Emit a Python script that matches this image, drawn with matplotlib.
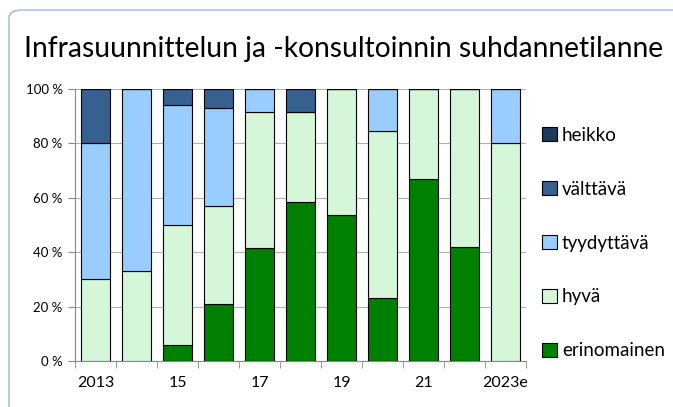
import matplotlib.pyplot as plt
from matplotlib.patches import FancyBboxPatch

years = ["2013", "14", "15", "16", "17", "18", "19", "20", "21", "22", "2023e"]
tick_labels = ["2013", "15", "17", "19", "21", "2023e"]

# shares in percent, bottom to top
erinomainen = [0, 0, 6, 21, 41.7, 58.3, 53.8, 23.1, 67, 42, 0]
hyva = [30, 33, 44, 36, 50, 33.4, 46.2, 61.5, 33, 58, 80]
tyydyttava = [50, 67, 44, 36, 8.3, 0, 0, 15.4, 0, 0, 20]
valttava = [20, 0, 6, 7, 0, 8.3, 0, 0, 0, 0, 0]
heikko = [0, 0, 0, 0, 0, 0, 0, 0, 0, 0, 0]

series = [
    ("erinomainen", erinomainen, "#008000"),
    ("hyvä", hyva, "#d6f6d9"),
    ("tyydyttävä", tyydyttava, "#99ccff"),
    ("välttävä", valttava, "#35608f"),
    ("heikko", heikko, "#203a5c"),
]

plt.rcParams['font.family'] = ['Lato', 'DejaVu Sans']

fig = plt.figure(figsize=(6.73, 4.07), dpi=100)

# rounded frame around the chart
frame = FancyBboxPatch((9 / 673, -0.1), 1.1, 1.1 - 10 / 407,
                       boxstyle="round,pad=0,rounding_size=0.02",
                       transform=fig.transFigure, fill=False,
                       edgecolor="#9fb6d8", linewidth=1.0)
fig.patches.append(frame)

ax = fig.add_axes([75 / 673, 46 / 407, 451 / 673, 272 / 407])

x = list(range(len(years)))
bottom = [0] * len(years)
handles = []
for name, vals, col in series:
    b = ax.bar(x, vals, width=0.69, bottom=bottom, color=col,
               edgecolor="black", linewidth=0.8, label=name, zorder=3)
    handles.append(b)
    bottom = [bo + v for bo, v in zip(bottom, vals)]

ax.set_xlim(-0.5, len(years) - 0.5)
ax.set_ylim(0, 100)
ax.set_yticks([0, 20, 40, 60, 80, 100])
ax.set_yticklabels([f"{v} %" for v in range(0, 101, 20)], fontsize=9.5)
ax.set_xticks([0, 2, 4, 6, 8, 10])
ax.set_xticklabels(tick_labels, fontsize=11.5)
ax.set_xticks([i - 0.5 for i in range(len(years) + 1)], minor=True)
ax.tick_params(axis="x", which="major", length=0, pad=11)
ax.tick_params(axis="x", which="minor", length=5, color="#888888")
ax.tick_params(axis="y", length=5, color="#888888", pad=4)
ax.grid(axis="y", color="#b0b0b0", linewidth=0.8, zorder=0)
for s in ["top", "right"]:
    ax.spines[s].set_visible(False)
ax.spines["left"].set_color("#888888")
ax.spines["bottom"].set_color("#888888")

fig.text(343.5 / 673, 1 - 49 / 407, "Infrasuunnittelun ja -konsultoinnin suhdannetilanne",
         ha="center", va="center", fontsize=20.3)

fig.legend(handles[::-1], [s[0] for s in series][::-1], loc="center left",
           bbox_to_anchor=(533 / 673, 1 - 243 / 407), frameon=False,
           fontsize=13.5, handlelength=0.8, handleheight=0.8,
           handletextpad=0.25, labelspacing=1.97, borderpad=0)

fig.savefig("out.png", dpi=100)
